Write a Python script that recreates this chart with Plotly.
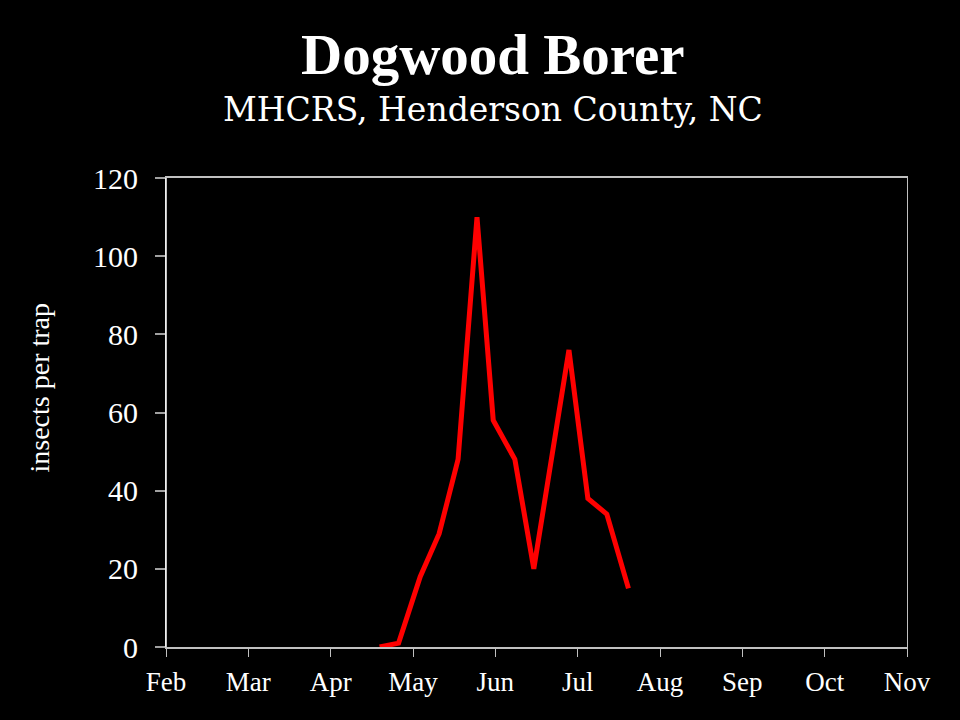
import plotly.graph_objects as go
import pandas as pd

# Data
dates = ["2000-04-20", "2000-04-27", "2000-05-05", "2000-05-12", "2000-05-19",
         "2000-05-26", "2000-06-01", "2000-06-09", "2000-06-16", "2000-06-29",
         "2000-07-06", "2000-07-13", "2000-07-21"]
counts = [0, 1, 18, 29, 48, 110, 58, 48, 20, 76, 38, 34, 15]
month_labels = ["Feb", "Mar", "Apr", "May", "Jun", "Jul", "Aug", "Sep", "Oct", "Nov"]
y_ticks = [0, 20, 40, 60, 80, 100, 120]

start = pd.Timestamp("2000-02-01")
end = pd.Timestamp("2000-11-01")
span = (end - start).days
xdays = [(pd.Timestamp(d) - start).days for d in dates]
tickvals = [i * span / (len(month_labels) - 1) for i in range(len(month_labels))]

fig = go.Figure()
fig.add_trace(go.Scatter(x=xdays, y=counts, mode="lines",
                         line=dict(color="#ff0000", width=5),
                         showlegend=False, hoverinfo="x+y"))

font_fam = "Liberation Serif, Times New Roman, serif"

fig.update_layout(
    width=960, height=720,
    paper_bgcolor="black", plot_bgcolor="black",
    margin=dict(l=166, r=53, t=178, b=73),
    font=dict(family=font_fam, color="white"),
    xaxis=dict(range=[0, span], tickvals=tickvals, ticktext=month_labels,
               showgrid=False, zeroline=False,
               showline=True, linecolor="#c0c0c0", linewidth=2, mirror=True,
               ticks="outside", ticklen=8, tickcolor="#c0c0c0", tickwidth=1,
               ticklabelstandoff=2,
               tickfont=dict(size=27, color="white", family=font_fam)),
    yaxis=dict(range=[0, 120], tickvals=y_ticks,
               showgrid=False, zeroline=False,
               showline=True, linecolor="#c0c0c0", linewidth=1, mirror=True,
               ticks="outside", ticklen=10, tickcolor="#a0a0a0", tickwidth=2,
               ticklabelstandoff=11,
               tickfont=dict(size=30, color="white", family=font_fam)),
)

# white left axis
fig.add_shape(type="line", xref="paper", yref="paper", x0=0, x1=0, y0=0, y1=1,
              line=dict(color="white", width=1.5))

fig.add_annotation(text="insects per trap", xref="paper", yref="paper",
                   x=0, y=0.5, xanchor="center", yanchor="middle", textangle=-90,
                   xshift=-127, yshift=25,
                   showarrow=False, font=dict(size=28, color="white", family=font_fam))

fig.add_annotation(text="<b>Dogwood Borer</b>", xref="paper", yref="paper",
                   x=0.5, y=1.0, xanchor="center", yanchor="bottom",
                   xshift=-44, yshift=90,
                   showarrow=False, font=dict(size=57, color="white", family=font_fam))
fig.add_annotation(text="MHCRS, Henderson County, NC", xref="paper", yref="paper",
                   x=0.5, y=1.0, xanchor="center", yanchor="bottom",
                   xshift=-44, yshift=47,
                   showarrow=False, font=dict(size=33, color="white",
                                              family="DejaVu Serif, Liberation Serif, serif"))

fig.write_html("out.html", config={"displayModeBar": False},
               post_script="document.body.style.margin='0';document.body.style.background='black';")
